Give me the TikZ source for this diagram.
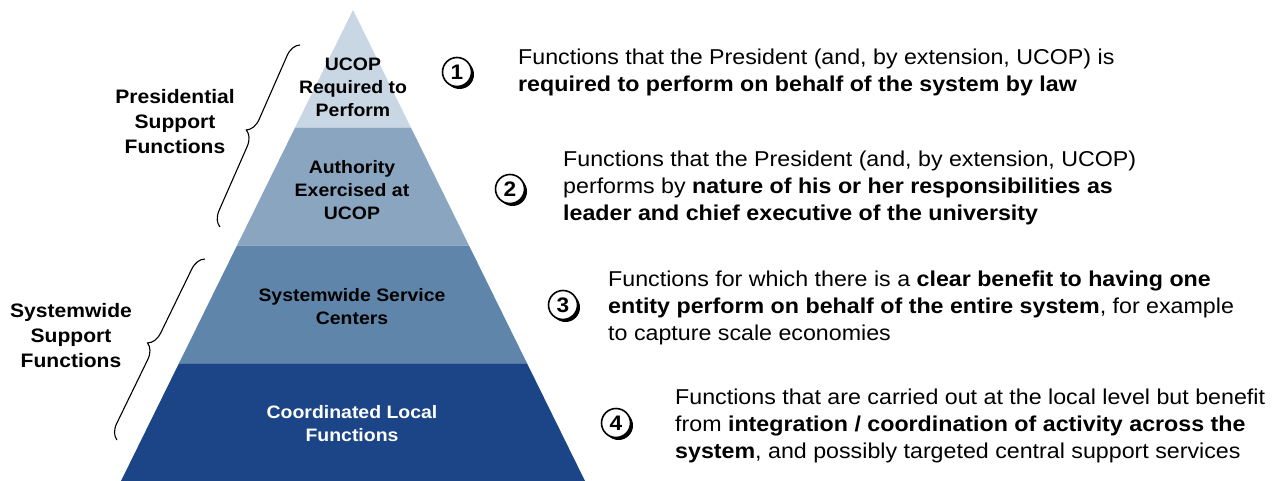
\documentclass[tikz,border=0pt]{standalone}
\usepackage{fontspec}
\setmainfont[FakeStretch=1.08]{Liberation Sans}
\usetikzlibrary{calc}
\usetikzlibrary{positioning}
\usetikzlibrary{decorations.pathreplacing}
\usetikzlibrary{shadows}

\definecolor{layerA}{RGB}{201,214,228}
\definecolor{layerB}{RGB}{137,165,192}
\definecolor{layerC}{RGB}{95,134,170}
\definecolor{layerD}{RGB}{27,69,135}

\begin{document}
\begin{tikzpicture}[x=1pt,y=-1pt,
    layertext/.style={font=\fontsize{18}{23}\selectfont\bfseries, align=center},
    sidetext/.style={font=\fontsize{19.5}{25}\selectfont\bfseries, align=center},
    desc/.style={font=\fontsize{21.5}{27}\selectfont, align=left, anchor=west, inner sep=0pt},
    num/.style={circle, draw=black, line width=1.6pt, fill=white, minimum size=29pt, inner sep=0pt,
        font=\fontsize{21}{21}\selectfont\bfseries,
        drop shadow={shadow xshift=2.5pt, shadow yshift=-2.5pt, opacity=1, fill=black}},
    curly/.style={decorate, decoration={brace, amplitude=15pt}, line width=1.1pt}]
    \useasboundingbox (0,0) rectangle (1279,481);
    \fill[white] (0,0) rectangle (1279,481);

    % the pyramid
    \coordinate (apex) at (353,10);
    \coordinate (bl) at (121,481);
    \coordinate (br) at (585,481);
    \foreach \a/\b/\col in {0/0.25/layerA, 0.25/0.5/layerB, 0.5/0.75/layerC, 0.75/1/layerD}
        \fill[\col] ($(apex)!\a!(bl)$) -- ($(apex)!\b!(bl)$) -- ($(apex)!\b!(br)$) -- ($(apex)!\a!(br)$) -- cycle;

    \node[layertext] (ucop) at (353,87) {UCOP\\Required to\\Perform};
    \node[layertext] (authority) at (352,190) {Authority\\Exercised at\\UCOP};
    \node[layertext] (service) at (352,307) {Systemwide Service\\Centers};
    \node[layertext, white] (local) at (352,424) {Coordinated Local\\Functions};

    % braces on the left
    \coordinate (pb1) at (220,227);
    \coordinate (pt1) at (300,45);
    \coordinate (sb1) at (117,440);
    \coordinate (st1) at (205,259);
    \draw[curly] (pb1) -- (pt1);
    \draw[curly] (sb1) -- (st1);
    \node[sidetext] (presid) at (175,122) {Presidential\\Support\\Functions};
    \node[sidetext] (systemw) at (71,336) {Systemwide\\Support\\Functions};

    % numbered items
    \node[num] (n1) at (457,72) {1};
    \node[num] (n2) at (510,189) {2};
    \node[num] (n3) at (563,305) {3};
    \node[num] (n4) at (616,423) {4};

    \node[desc] (d1) at (518,72) {Functions that the President (and, by extension, UCOP) is\\
        \textbf{required to perform on behalf of the system by law}};
    \node[desc] (d2) at (563,188) {Functions that the President (and, by extension, UCOP)\\
        performs by \textbf{nature of his or her responsibilities as}\\
        \textbf{leader and chief executive of the university}};
    \node[desc] (d3) at (608,308) {Functions for which there is a \textbf{clear benefit to having one}\\
        \textbf{entity perform on behalf of the entire system}, for example\\
        to capture scale economies};
    \node[desc] (d4) at (675,426) {Functions that are carried out at the local level but benefit\\
        from \textbf{integration / coordination of activity across the}\\
        \textbf{system}, and possibly targeted central support services};
\end{tikzpicture}
\end{document}
